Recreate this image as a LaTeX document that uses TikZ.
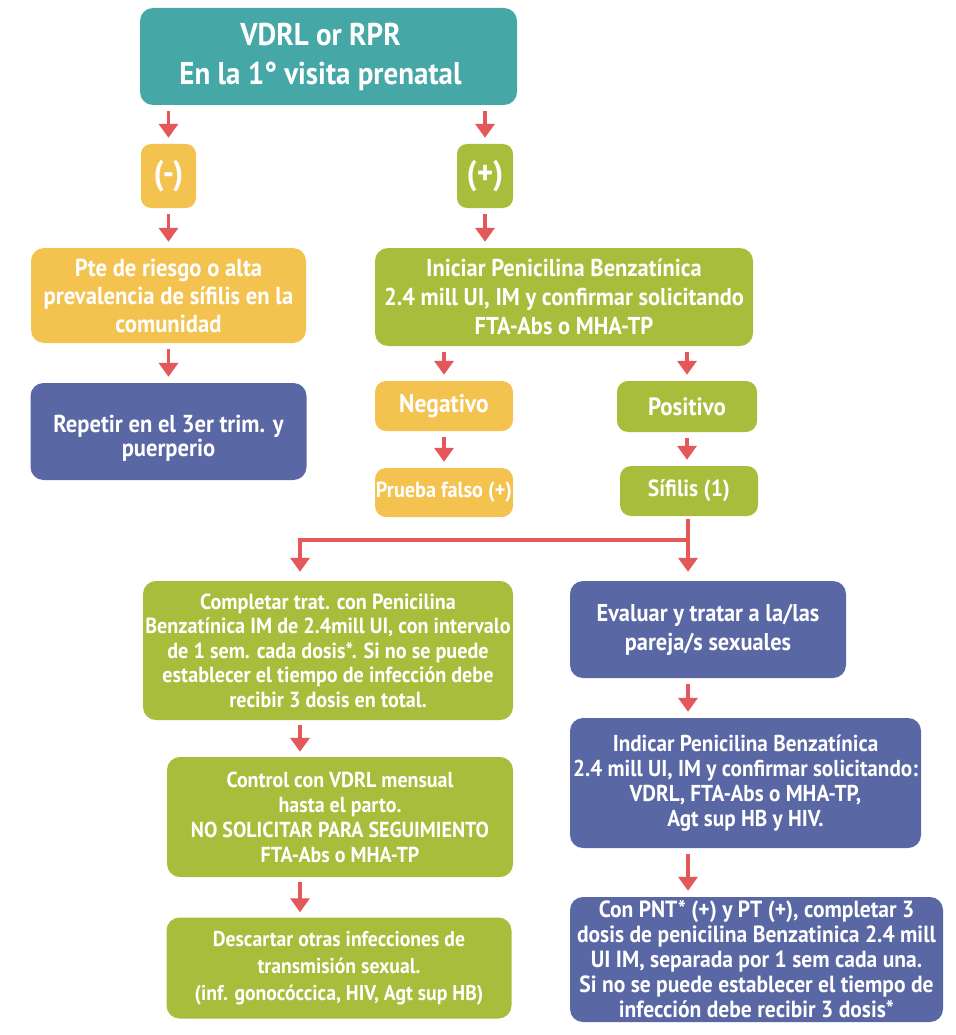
\documentclass[tikz,border=0pt]{standalone}
\usepackage{fontspec}
\setmainfont{PT Sans}[FakeStretch=0.92]
\usetikzlibrary{arrows.meta}
\definecolor{cteal}{HTML}{45A7A6}
\definecolor{cyel}{HTML}{F4C24F}
\definecolor{cgrn}{HTML}{A8BD3B}
\definecolor{cblu}{HTML}{5A67A5}
\definecolor{cred}{HTML}{E4585A}
\newcommand{\fs}[2]{\bfseries\fontsize{#1}{#2}\selectfont}
\begin{document}
\begin{tikzpicture}[x=1pt,y=-1pt,
  box/.style={rounded corners=13pt, inner sep=0pt, align=center, text=white, anchor=center},
  arr/.style={draw=cred, line width=3.5pt, -{Triangle[width=19pt,length=14pt]}, shorten <=6pt, shorten >=6pt}]
\useasboundingbox (0,0) rectangle (955,1035);

\node[box, fill=cteal, minimum width=377pt, minimum height=97pt, font=\fs{31.5}{39}] (top) at (328.5,56.5) {VDRL or RPR\hspace*{16pt}\\En la 1° visita prenatal\hspace*{16pt}};
\node[box, rounded corners=10pt, fill=cyel, minimum width=55pt, minimum height=64pt, font=\fs{34}{36}] (neg) at (168.5,176) {(-)};
\node[box, rounded corners=10pt, fill=cgrn, minimum width=56pt, minimum height=64pt, font=\fs{34}{36}] (pos) at (485,176) {(+)};
\node[box, fill=cyel, minimum width=275pt, minimum height=95pt, font=\fs{24.6}{28}] (pte) at (168.5,295.5) {Pte de riesgo o alta\\prevalencia de sífilis en la\\comunidad};
\node[box, fill=cgrn, minimum width=378pt, minimum height=98pt, font=\fs{24.4}{29}] (ini) at (564,297) {Iniciar Penicilina Benzatínica\\2.4 mill UI, IM y confirmar solicitando\\FTA-Abs o MHA-TP};
\node[box, fill=cblu, minimum width=276pt, minimum height=97pt, font=\fs{24.5}{24}] (rep) at (168.5,431.5) {\rule{0pt}{30pt}Repetir en el 3er trim. y\\puerperio};
\node[box, rounded corners=11pt, fill=cyel, minimum width=138pt, minimum height=50pt, font=\fs{25.5}{28}] (nega) at (444,406) {Negativo};
\node[box, rounded corners=11pt, fill=cgrn, minimum width=140pt, minimum height=51pt, font=\fs{25}{28}] (posi) at (687,406.5) {Positivo};
\node[box, rounded corners=11pt, fill=cyel, minimum width=138pt, minimum height=49pt, font=\fs{22}{26}] (prue) at (444,492.5) {Prueba falso (+)};
\node[box, rounded corners=11pt, fill=cgrn, minimum width=138pt, minimum height=50pt, font=\fs{23.4}{28}] (sif) at (689,491) {Sífilis (1)};
\node[box, fill=cgrn, minimum width=370pt, minimum height=139pt, font=\fs{21.9}{24.5}] (comp) at (328,650.5) {Completar trat. con Penicilina\\Benzatínica IM de 2.4mill UI, con intervalo\\de 1 sem. cada dosis*. Si no se puede\\establecer el tiempo de infección debe\\recibir 3 dosis en total.};
\node[box, fill=cblu, minimum width=276pt, minimum height=97pt, font=\fs{24.3}{29}] (eva) at (708,629.5) {Evaluar y tratar a la/las\\pareja/s sexuales};
\node[box, fill=cgrn, minimum width=346pt, minimum height=120pt, font=\fs{21.7}{25}] (ctrl) at (340,817) {Control con VDRL mensual\\hasta el parto.\\NO SOLICITAR PARA SEGUIMIENTO\\FTA-Abs o MHA-TP};
\node[box, fill=cblu, minimum width=351pt, minimum height=130pt, font=\fs{23}{25}] (ind) at (745.5,783) {Indicar Penicilina Benzatínica\\2.4 mill UI, IM y confirmar solicitando:\\VDRL, FTA-Abs o MHA-TP,\\Agt sup HB y HIV.};
\node[box, fill=cgrn, minimum width=345pt, minimum height=101pt, font=\fs{21.4}{27}] (desc) at (339,968) {Descartar otras infecciones de\\transmisión sexual.\\(inf. gonocóccica, HIV, Agt sup HB)};
\node[box, fill=cblu, minimum width=373pt, minimum height=125pt, font=\fs{23.4}{25}] (con) at (756.5,959.5) {Con PNT* (+) y PT (+), completar 3\\dosis de penicilina Benzatinica 2.4 mill\\UI IM, separada por 1 sem cada una.\\Si no se puede establecer el tiempo de\\infección debe recibir 3 dosis*};

\coordinate (jl) at (300,540);
\coordinate (jr) at (688,540);

\draw[arr] (neg.north |- top.south) -- (neg.north);
\draw[arr] (pos.north |- top.south) -- (pos.north);
\draw[arr] (neg.south) -- (neg.south |- pte.north);
\draw[arr] (pos.south) -- (pos.south |- ini.north);
\draw[arr] (pte.south) -- (pte.south |- rep.north);
\draw[arr] (nega.north |- ini.south) -- (nega.north);
\draw[arr] (posi.north |- ini.south) -- (posi.north);
\draw[arr] (nega.south) -- (nega.south |- prue.north);
\draw[arr] (posi.south) -- (posi.south |- sif.north);
\draw[arr, shorten <=3pt, shorten >=9pt] (sif.south -| jr) -- (eva.north -| jr);
\draw[arr, shorten <=0pt, shorten >=9pt] (jr) -- (jl) -- (comp.north -| jl);
\draw[arr, shorten <=5pt, shorten >=5pt] (comp.south -| jl) -- (ctrl.north -| jl);
\draw[arr, shorten <=5pt, shorten >=5pt] (ctrl.south -| jl) -- (desc.north -| jl);
\draw[arr] (eva.south -| jr) -- (ind.north -| jr);
\draw[arr] (ind.south -| jr) -- (con.north -| jr);
\end{tikzpicture}
\end{document}
